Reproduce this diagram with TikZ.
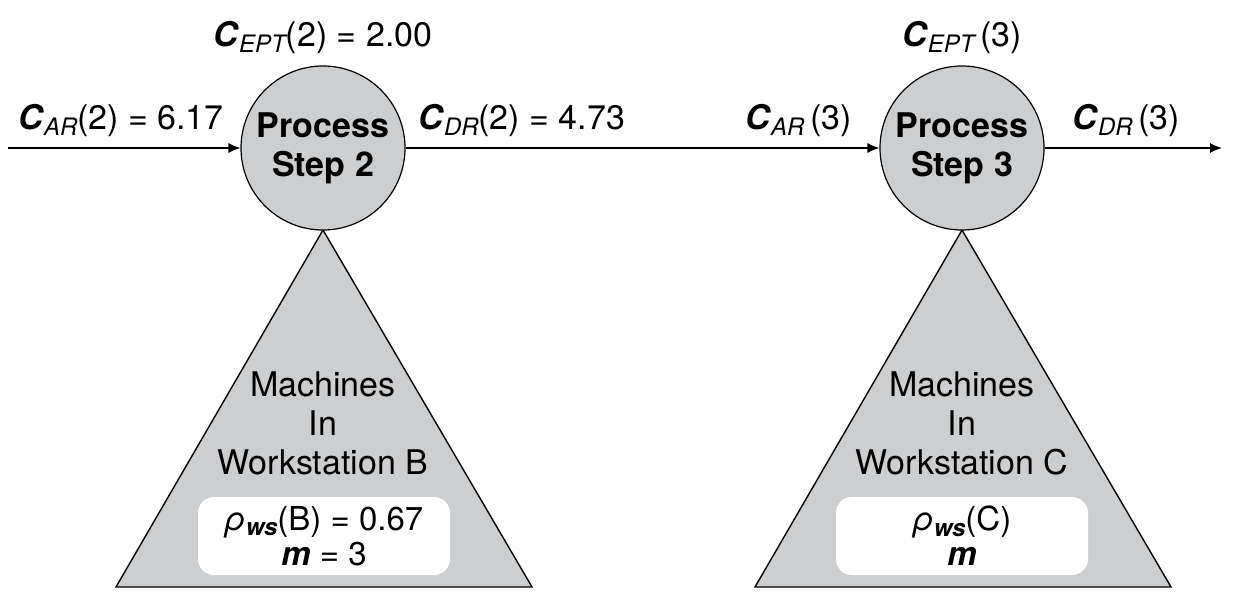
\documentclass[tikz,border=0pt]{standalone}
\usepackage{fontspec}
\setmainfont{TeX Gyre Heros}
\usetikzlibrary{arrows.meta}
\definecolor{StepGray}{RGB}{205,206,208}
\newcommand{\lowtx}[1]{\raisebox{-0.3ex}{\fontsize{12}{12}\selectfont\itshape #1}}
\newcommand{\Cvar}[1]{\textbf{\textit{C}}\lowtx{#1}}

\tikzset{
  stepnode/.style={circle, draw, line width=0.6pt, fill=StepGray, minimum size=82pt, inner sep=0pt,
    font=\fontsize{17}{19.5}\selectfont\bfseries, align=center},
  wstext/.style={align=center, font=\fontsize{17}{19.5}\selectfont},
  wsbox/.style={fill=white, rounded corners=8pt, minimum width=126pt, minimum height=39pt,
    align=center, font=\fontsize{16.5}{17.5}\selectfont},
  lbl/.style={font=\fontsize{17}{20}\selectfont, inner sep=0pt},
  flow/.style={-{Latex[length=6pt,width=5pt]}, line width=0.6pt}
}

\begin{document}
\begin{tikzpicture}[x=0.5pt, y=-0.5pt]
    \useasboundingbox (0,0) rectangle (1236,614);
    \foreach \s/\x/\ws in {2/323/B, 3/962/C} {
        \draw[fill=StepGray, line width=0.7pt] (\x,230) -- (\x-207,587) -- (\x+209,587) -- cycle;
        \node[stepnode] (step\s) at (\x,148) {Process\\Step \s};
        \node[wstext] (ws\s) at (\x,423) {Machines\\In\\Workstation \ws};
    }
    \node[wsbox] (rho2) at (324,536) {\textit{ρ}\lowtx{\textbf{ws}}(B) = 0.67\\\textbf{\textit{m}} = 3};
    \node[wsbox] (rho3) at (962,536) {\textit{ρ}\lowtx{\textbf{ws}}(C)\\\textbf{\textit{m}}};

    \coordinate (in2) at (8,148);
    \coordinate (out3) at (1222,148);
    \draw[flow] (in2) -- (step2);
    \draw[flow] (step2) -- (step3);
    \draw[flow] (step3) -- (out3);

    \node[lbl] (cept2) at (323,38) {\Cvar{EPT}(2) = 2.00};
    \node[lbl, anchor=west] (car2) at (18,121) {\Cvar{AR}(2) = 6.17};
    \node[lbl, anchor=west] (cdr2) at (418,121) {\Cvar{DR}(2) = 4.73};
    \node[lbl, anchor=east] (car3) at (852,121) {\Cvar{AR}\,(3)};
    \node[lbl] (cept3) at (962,38) {\Cvar{EPT}\,(3)};
    \node[lbl, anchor=west] (cdr3) at (1072,121) {\Cvar{DR}\,(3)};
\end{tikzpicture}
\end{document}
